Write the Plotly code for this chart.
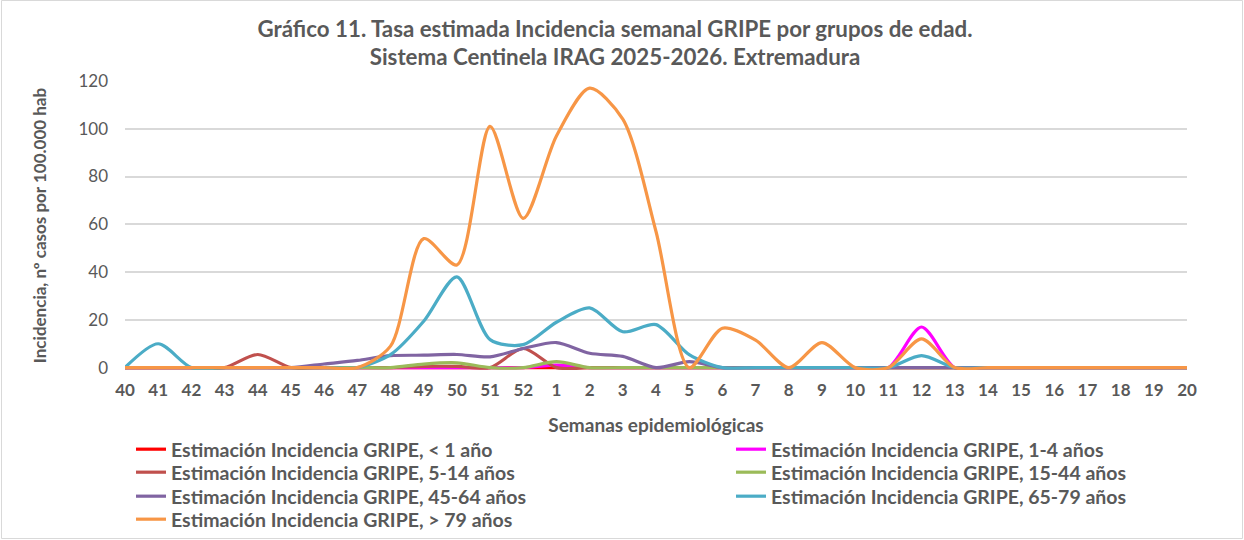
import plotly.graph_objects as go

weeks = [str(w) for w in list(range(40, 53)) + list(range(1, 21))]

names = [
    "Estimación Incidencia GRIPE, < 1 año",
    "Estimación Incidencia GRIPE, 1-4 años",
    "Estimación Incidencia GRIPE, 5-14 años",
    "Estimación Incidencia GRIPE, 15-44 años",
    "Estimación Incidencia GRIPE, 45-64 años",
    "Estimación Incidencia GRIPE, 65-79 años",
    "Estimación Incidencia GRIPE, > 79 años",
]
colors = ["#FF0000", "#FF00FF", "#C0504D", "#9BBB59", "#8064A2", "#4BACC6", "#F79646"]

#            40 41 42 43 44  45 46 47 48 49   50   51 52  1   2  3   4  5  6   7  8  9  10 11 12 13 14 15 16 17 18 19 20
menor1 =    [0, 0, 0, 0, 0,  0, 0, 0, 0, 0,   0,   0, 0,  0,  0, 0,  0, 0, 0,  0, 0, 0,  0, 0, 0, 0, 0, 0, 0, 0, 0, 0, 0]
a1_4 =      [0, 0, 0, 0, 0,  0, 0, 0, 0, 0,   0,   0, 0,  1,  0, 0,  0, 0, 0,  0, 0, 0,  0, 0, 17, 0, 0, 0, 0, 0, 0, 0, 0]
a5_14 =     [0, 0, 0, 0, 5.5, 0, 0, 0, 0, 0.5, 0.5, 0, 8,  0,  0, 0,  0, 0, 0,  0, 0, 0,  0, 0, 0, 0, 0, 0, 0, 0, 0, 0, 0]
a15_44 =    [0, 0, 0, 0, 0,  0, 0, 0, 0, 1.5, 2,   0, 0,  2.5, 0, 0,  0, 0, 0,  0, 0, 0,  0, 0, 0, 0, 0, 0, 0, 0, 0, 0, 0]
a45_64 =    [0, 0, 0, 0, 0,  0, 1.5, 3, 5, 5.2, 5.5, 4.5, 8, 10.5, 6, 4.7, 0, 2.5, 0, 0, 0, 0, 0, 0, 0, 0, 0, 0, 0, 0, 0, 0, 0]
a65_79 =    [0, 10, 0, 0, 0, 0, 0, 0, 5.4, 19.4, 38, 11.7, 9.6, 19, 25, 15, 18, 5.4, 0, 0, 0, 0, 0, 0, 5, 0, 0, 0, 0, 0, 0, 0, 0]
mayor79 =   [0, 0, 0, 0, 0,  0, 0, 0, 9, 54, 43, 101, 62.5, 97, 117, 104, 57, 0, 16.5, 11.5, 0, 10.5, 0, 0, 12, 0, 0, 0, 0, 0, 0, 0, 0]

series = [menor1, a1_4, a5_14, a15_44, a45_64, a65_79, mayor79]

FONT = "Lato"
GRAY = "#595959"

W, H = 1244, 540
L, R, T, B = 125, 57, 81, 170
pw = W - L - R
ph = H - T - B

def px_x(px):
    return (px - L) / pw

def px_y(py):
    return (H - B - py) / ph

# legend placement (left column / right column, row tops)
legend_left = [131, 731, 131, 731, 131, 731, 131]
legend_top = [430, 430, 453, 453, 477, 477, 500]

fig = go.Figure()
legend_layout = {}
for i, (n, c, v) in enumerate(zip(names, colors, series)):
    lid = "legend" if i == 0 else f"legend{i + 1}"
    fig.add_trace(go.Scatter(
        x=weeks, y=v, name=n, mode="lines", legend=lid,
        line=dict(color=c, width=3.2, shape="spline", smoothing=0.8),
    ))
    legend_layout[lid] = dict(
        orientation="v", xanchor="left", yanchor="top",
        x=px_x(legend_left[i]), y=px_y(legend_top[i]),
        font=dict(size=19.5, family=FONT, color=GRAY, weight="bold"),
        itemwidth=30, bgcolor="rgba(0,0,0,0)",
    )

fig.update_layout(
    width=W, height=H,
    margin=dict(l=L, r=R, t=T, b=B, autoexpand=False),
    paper_bgcolor="white", plot_bgcolor="white",
    font=dict(family=FONT, color=GRAY),
    title=dict(
        text="<b>Gráfico 11. Tasa estimada Incidencia semanal GRIPE por grupos de edad.<br>Sistema Centinela IRAG 2025-2026. Extremadura</b>",
        x=615 / W, xref="container", xanchor="center",
        y=1 - 36.5 / H, yref="container", yanchor="middle",
        font=dict(size=22.3, family=FONT, color=GRAY),
    ),
    xaxis=dict(
        type="category", categoryorder="array", categoryarray=weeks,
        range=[0, len(weeks) - 1],
        showgrid=False, showline=False, zeroline=False,
        ticks="", tickfont=dict(size=17, family=FONT, color=GRAY),
        tickprefix="<b>", ticksuffix="</b>", ticklabelstandoff=8,
        title=dict(text="<b>Semanas epidemiológicas</b>", font=dict(size=19, color=GRAY), standoff=19),
    ),
    yaxis=dict(
        range=[-1, 120], tickvals=[0, 20, 40, 60, 80, 100, 120],
        showgrid=True, gridcolor="#D9D9D9", gridwidth=1.5,
        zeroline=True, zerolinecolor="#BFBFBF", zerolinewidth=1.5,
        showline=False, ticks="",
        tickfont=dict(size=17, family=FONT, color=GRAY),
        tickprefix="<b>", ticksuffix="</b>", ticklabelstandoff=16,
        title=dict(text="<b>Incidencia, nº casos por 100.000 hab</b>", font=dict(size=17, color=GRAY), standoff=27),
    ),
    showlegend=True,
    **legend_layout,
)

fig.add_shape(
    type="rect", xref="paper", yref="paper",
    x0=px_x(1.5), x1=px_x(W - 1.5),
    y0=px_y(H - 1.5), y1=px_y(0.5),
    line=dict(color="#D9D9D9", width=1), fillcolor="rgba(0,0,0,0)", layer="below",
)

fig.write_html("out.html", config={"displayModeBar": False},
               post_script="document.body.style.margin='0px';")
